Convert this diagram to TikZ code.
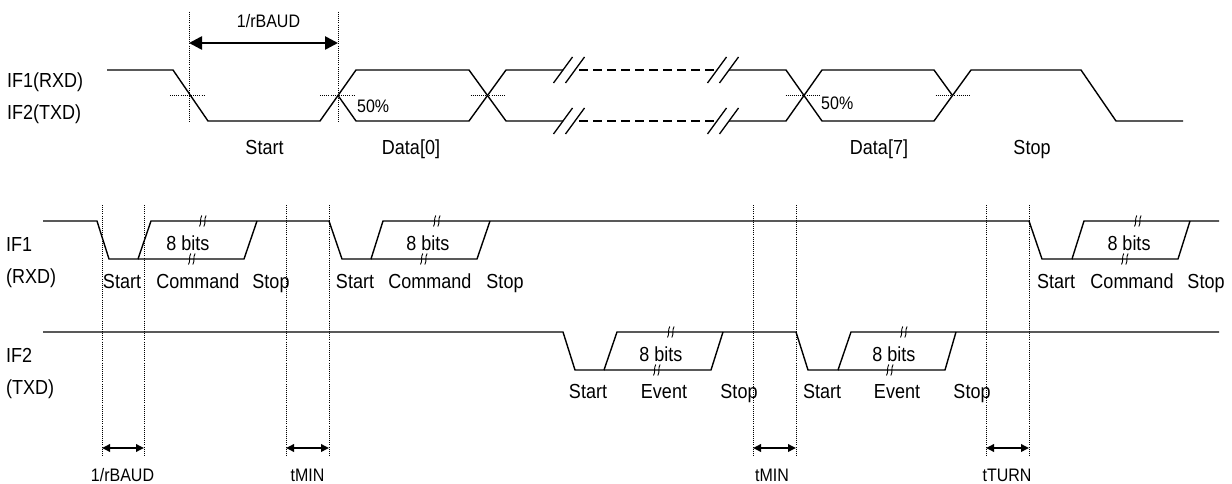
\documentclass[tikz,border=0pt]{standalone}
\usepackage{graphicx}
\usepackage{fontspec}
\setmainfont{Liberation Sans}
\usetikzlibrary{arrows.meta}
\newcommand{\vst}[1]{\scalebox{1}[1.13]{#1}}
\begin{document}
\begin{tikzpicture}[x=1pt,y=-1pt,
  wave/.style={line width=1.4pt, line join=miter},
  dotline/.style={line width=0.8pt, dash pattern=on 1pt off 1.1pt},
  dashline/.style={line width=1.4pt, dash pattern=on 9pt off 5pt},
  slash/.style={line width=1.3pt},
  bigdim/.style={line width=2.6pt, {Triangle[length=13pt,width=13pt]}-{Triangle[length=13pt,width=13pt]}},
  smalldim/.style={line width=1.8pt, {Triangle[length=8pt,width=7.5pt]}-{Triangle[length=8pt,width=7.5pt]}},
  lab/.style={inner sep=0pt, anchor=base, font=\fontsize{18}{20}\selectfont},
  llab/.style={inner sep=0pt, anchor=base west, font=\fontsize{18}{20}\selectfont},
  slab/.style={inner sep=0pt, anchor=base, font=\fontsize{16}{18}\selectfont},
  sllab/.style={inner sep=0pt, anchor=base west, font=\fontsize{16}{18}\selectfont},
  brk/.pic={\draw[line width=0.9pt] (-3.5,5.5) .. controls (-1.2,1.5) and (-3.6,-1.5) .. (-1.2,-5.5);
            \draw[line width=0.9pt] (0.8,5.5) .. controls (3.1,1.5) and (0.7,-1.5) .. (3.1,-5.5);}
]
\useasboundingbox (0,0) rectangle (1232,484);

% ---------------- top: bit timing ----------------
\node[llab] (lif1) at (7,88) {\vst{IF1(RXD)}};
\node[llab] (lif2) at (7,120) {\vst{IF2(TXD)}};

% dotted guides
\coordinate (ta1) at (189,12); \coordinate (tb1) at (189,122);
\coordinate (ta2) at (338,12); \coordinate (tb2) at (338,122);
\draw[dotline] (ta1) -- (tb1);
\draw[dotline] (ta2) -- (tb2);
\foreach \cx in {187.5,337.5,488,803,953}
  \draw[dotline] (\cx-17.5,95.5) -- (\cx+17.5,95.5);

% dimension arrow
\coordinate (aw1) at (189,43); \coordinate (aw2) at (338,43);
\draw[bigdim] (aw1) -- (aw2);
\node[slab] (lbaudtop) at (268.5,28) {\vst{1/rBAUD}};

% waveform
\draw[wave] (107,70) -- (173,70) -- (208,121) -- (320,121) -- (356,70) -- (469,70) -- (506,121) -- (563,121);
\draw[wave] (338,95.5) -- (356,121) -- (469,121) -- (506,70) -- (563,70);
\draw[wave] (729,70) -- (786,70) -- (822,121) -- (934,121) -- (971,70) -- (1081,70) -- (1116,121) -- (1183,121);
\draw[wave] (729,121) -- (786,121) -- (822,70) -- (934,70) -- (952.5,95.5);
\draw[dashline] (579,70) -- (714,70);
\draw[dashline] (579,121) -- (714,121);
\foreach \cx in {563,575,717,729}
  \foreach \yy in {70,121}
    \draw[slash] (\cx-9.5,\yy+13) -- (\cx+9.5,\yy-13);

\node[sllab] (p50a) at (357,113) {\vst{50\%}};
\node[sllab] (p50b) at (821,110) {\vst{50\%}};
\node[lab] (tstart) at (264.5,154) {\vst{Start}};
\node[lab] (tdata0) at (411,154) {\vst{Data[0]}};
\node[lab] (tdata7) at (879,154) {\vst{Data[7]}};
\node[lab] (tstop) at (1032,154) {\vst{Stop}};

% ---------------- bottom: frame timing ----------------
\node[llab] (bif1) at (6,251) {\vst{IF1}};
\node[llab] (brxd) at (6,283) {\vst{(RXD)}};
\node[llab] (bif2) at (6,362.5) {\vst{IF2}};
\node[llab] (btxd) at (6,394.5) {\vst{(TXD)}};

% dotted guides
\foreach \nm/\xx in {g1/102,g2/144,g3/286,g4/329,g5/753,g6/796,g7/986,g8/1029}{
  \coordinate (\nm t) at (\xx,205);
  \coordinate (\nm b) at (\xx,455);
  \coordinate (\nm a) at (\xx,448);
  \draw[dotline] (\nm t) -- (\nm b);
}

% IF1 line
\draw[wave] (43,221) -- (97,221) -- (109,259) -- (138,259) -- (151,221) -- (257,221) -- (329,221)
  -- (342,259) -- (371,259) -- (383,221) -- (490,221) -- (1029,221)
  -- (1042,259) -- (1072,259) -- (1084,221) -- (1190,221) -- (1219,221);
\draw[wave] (138,259) -- (244,259) -- (257,221);
\draw[wave] (371,259) -- (477,259) -- (490,221);
\draw[wave] (1072,259) -- (1178,259) -- (1190,221);

% IF2 line
\draw[wave] (43,332) -- (563,332) -- (575,370) -- (604,370) -- (617,332) -- (723,332) -- (796,332)
  -- (808,370) -- (838,370) -- (851,332) -- (956,332) -- (1219,332);
\draw[wave] (604,370) -- (711,370) -- (723,332);
\draw[wave] (838,370) -- (945,370) -- (956,332);

% break marks
\foreach \bx/\by in {203/221,192/259,437/221,424/259,1138/221,1125/259,671/332,657/370,904/332,890/370}
  \pic at (\bx,\by) {brk};

% IF1 labels
\foreach \nm/\xx in {a/188,b/428,c/1129}
  \node[lab] (bits\nm) at (\xx,250) {\vst{8 bits}};
\foreach \nm/\xs/\xc/\xp in {a/122/198/271,b/355/430/505,c/1056/1132/1206}{
  \node[lab] (cst\nm) at (\xs,288.3) {\vst{Start}};
  \node[lab] (ccm\nm) at (\xc,288.3) {\vst{Command}};
  \node[lab] (csp\nm) at (\xp,288.3) {\vst{Stop}};
}
% IF2 labels
\foreach \nm/\xx in {a/661,b/894}
  \node[lab] (ebits\nm) at (\xx,361) {\vst{8 bits}};
\foreach \nm/\xs/\xc/\xp in {a/588/664/739,b/822/897/972}{
  \node[lab] (est\nm) at (\xs,398.3) {\vst{Start}};
  \node[lab] (eev\nm) at (\xc,398.3) {\vst{Event}};
  \node[lab] (esp\nm) at (\xp,398.3) {\vst{Stop}};
}

% timing arrows
\draw[smalldim] (g1a) -- (g2a);
\draw[smalldim] (g3a) -- (g4a);
\draw[smalldim] (g5a) -- (g6a);
\draw[smalldim] (g7a) -- (g8a);
\node[slab] (tbaud) at (122.5,481) {\vst{1/rBAUD}};
\node[slab] (tmin1) at (307.5,481) {\vst{tMIN}};
\node[slab] (tmin2) at (772,481) {\vst{tMIN}};
\node[slab] (tturn) at (1007,481) {\vst{tTURN}};
\end{tikzpicture}
\end{document}
